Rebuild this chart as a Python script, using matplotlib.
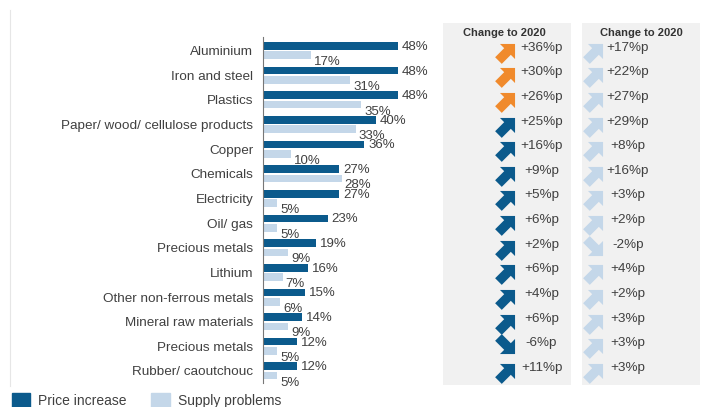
import matplotlib.pyplot as plt
import numpy as np
from matplotlib.path import Path
from matplotlib.markers import MarkerStyle
from matplotlib.transforms import Affine2D
from matplotlib.patches import Patch

plt.rcParams['font.family'] = ['Liberation Sans', 'DejaVu Sans']

# data
categories = ['Aluminium', 'Iron and steel', 'Plastics', 'Paper/ wood/ cellulose products',
              'Copper', 'Chemicals', 'Electricity', 'Oil/ gas', 'Precious metals', 'Lithium',
              'Other non-ferrous metals', 'Mineral raw materials', 'Precious metals',
              'Rubber/ caoutchouc']
price_increase = [48, 48, 48, 40, 36, 27, 27, 23, 19, 16, 15, 14, 12, 12]
supply_problems = [17, 31, 35, 33, 10, 28, 5, 5, 9, 7, 6, 9, 5, 5]
price_change = [36, 30, 26, 25, 16, 9, 5, 6, 2, 6, 4, 6, -6, 11]
supply_change = [17, 22, 27, 29, 8, 16, 3, 2, -2, 4, 2, 3, 3, 3]
n_top = 3  # top price changes shown in orange

DARK = '#0b5a8c'
LIGHT = '#c4d7e9'
ORANGE = '#f08a2c'
PANEL = '#f1f1f1'
TXT = '#404040'

W, H = 706, 407
fig = plt.figure(figsize=(W / 100, H / 100), dpi=100)
fig.patch.set_facecolor('white')


def px_axes(x0, x1, y0, y1):
    return fig.add_axes([x0 / W, 1 - y1 / H, (x1 - x0) / W, (y1 - y0) / H])


y = np.arange(len(categories))
ylim = (13.57, -1.12)
top, bottom = 23, 385

# main bar chart
ax = px_axes(263, 440, top, bottom)
ax.set_facecolor('none')
bh = 0.31
ax.barh(y - 0.19, price_increase, height=bh, color=DARK)
ax.barh(y + 0.19, supply_problems, height=bh, color=LIGHT)
ax.set_xlim(0, 177 / 2.8125)
ax.set_ylim(*ylim)
for i in range(len(categories)):
    ax.annotate(f'{price_increase[i]}%', (price_increase[i], y[i] - 0.19),
                xytext=(4, -1), textcoords='offset pixels', ha='left', va='center',
                fontsize=9.5, color=TXT)
    ax.annotate(f'{supply_problems[i]}%', (supply_problems[i], y[i] + 0.19),
                xytext=(3, -7), textcoords='offset pixels', ha='left', va='center',
                fontsize=9.5, color=TXT)
ax.set_yticks(y)
ax.set_yticklabels(categories, fontsize=9.7, color=TXT)
ax.tick_params(axis='y', length=0, pad=7)
ax.set_xticks([])
for s in ['top', 'right', 'bottom']:
    ax.spines[s].set_visible(False)
ax.spines['left'].set_color('#777777')
ax.spines['left'].set_linewidth(0.8)
ax.spines['left'].set_bounds(-0.55, 13.5)

# block arrow marker (90 degree head)
arrow_verts = np.array([[-0.22, -0.6], [0.22, -0.6], [0.22, 0.0], [0.5, 0.0],
                        [0.0, 0.5], [-0.5, 0.0], [-0.22, 0.0], [-0.22, -0.6]])
arrow_path = Path(arrow_verts, closed=True)
up_marker = MarkerStyle(arrow_path, transform=Affine2D().rotate_deg(-45))
down_marker = MarkerStyle(arrow_path, transform=Affine2D().rotate_deg(-135))


def panel(x0, x1, changes, colors, ax_x, tx_x, hx):
    p = px_axes(x0, x1, top, bottom)
    p.set_facecolor(PANEL)
    p.set_xlim(0, 1)
    p.set_ylim(*ylim)
    p.set_xticks([])
    p.set_yticks([])
    for s in p.spines.values():
        s.set_visible(False)
    p.text(hx, -0.72, 'Change to 2020', ha='center', va='center', fontsize=8,
           fontweight='bold', color='#333333')
    for i, c in enumerate(changes):
        m = up_marker if c >= 0 else down_marker
        p.scatter([ax_x], [y[i]], marker=m, s=340, color=colors[i], linewidths=0)
        sign = '+' if c > 0 else ''
        p.text(tx_x, y[i] - 0.12, f'{sign}{c}%p', ha='center', va='center',
               fontsize=9.7, color=TXT)


price_colors = [ORANGE if i < n_top else DARK for i in range(len(price_change))]
panel(443, 571, price_change, price_colors, 0.5, 0.77, 0.48)
panel(582, 700, supply_change, [LIGHT] * len(supply_change), 0.11, 0.39, 0.5)

# faint frame line
fig.add_artist(plt.Line2D([9.5 / W, 9.5 / W], [1 - 10 / H, 1 - 386 / H],
                          color='#e6e6e6', linewidth=0.8))

# legend
handles = [Patch(color=DARK), Patch(color=LIGHT)]
fig.legend(handles, ['Price increase', 'Supply problems'], loc='upper left',
           bbox_to_anchor=(6 / W, 1 - 387 / H), ncol=2, frameon=False,
           fontsize=10, handlelength=1.3, handleheight=1.3, handletextpad=0.6,
           columnspacing=1.8, labelcolor=TXT, borderaxespad=0)

fig.savefig('out.png', dpi=100)
